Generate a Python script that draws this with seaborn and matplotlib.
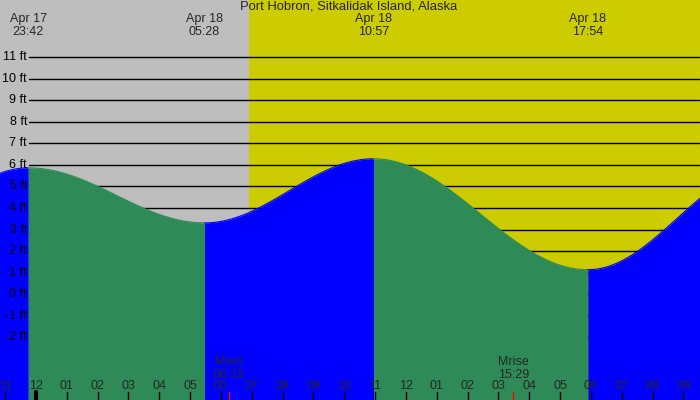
import numpy as np
import pandas as pd
import matplotlib
matplotlib.use("Agg")
import matplotlib.pyplot as plt
import seaborn as sns

# ---- data (hours relative to midnight Apr 18) ----
title = "Port Hobron, Sitkalidak Island, Alaska"
extreme_hours = [-6.6, -0.25, 5.467, 10.95, 17.90, 23.7]
extreme_heights = [0.9, 5.86, 3.31, 6.28, 1.14, 5.9]
extreme_labels = ["", "Apr 17\n23:42", "Apr 18\n05:28", "Apr 18\n10:57", "Apr 18\n17:54", ""]
sunrise_hour = 6.91
moon_hours = [6.25, 15.483]
moon_labels = ["Mset\n06:15", "Mrise\n15:29"]
hour_ticks = list(range(-1, 22))
hour_labels = ["11", "12", "01", "02", "03", "04", "05", "06", "07", "08", "09", "10",
               "11", "12", "01", "02", "03", "04", "05", "06", "07", "08", "09"]
ft_levels = list(range(-2, 12))
ft_labels = [f"{v} ft" for v in ft_levels]

sns.set_style("white")
plt.rcParams['font.family'] = ['Liberation Sans', 'DejaVu Sans']

XMIN, XMAX = -1.168, 21.54
YMIN, YMAX = -4.9, 13.64
FS = 9

fig = plt.figure(figsize=(7, 4), dpi=100)
ax = fig.add_axes([0, 0, 1, 1])

# background: night / day
ax.axvspan(XMIN, sunrise_hour, color="#bebebe", zorder=0, lw=0)
ax.axvspan(sunrise_hour, XMAX, color="#cccc00", zorder=0, lw=0)

# grid lines
for v, lab in zip(ft_levels, ft_labels):
    ax.plot([-0.227, 21.51], [v, v], color="black", lw=1, zorder=1)
    ax.text(-0.29, v, lab, ha="right", va="center", fontsize=FS, color="black", zorder=5)

# tide curve (cosine shape between extremes)
rows = []
for i in range(len(extreme_hours) - 1):
    t0, t1 = extreme_hours[i], extreme_hours[i + 1]
    h0, h1 = extreme_heights[i], extreme_heights[i + 1]
    tt = np.linspace(t0, t1, 120)
    hh = h0 + (h1 - h0) * (1 - np.cos(np.pi * (tt - t0) / (t1 - t0))) / 2
    phase = "rising" if h1 > h0 else "falling"
    for a, b in zip(tt, hh):
        rows.append((i, phase, a, b))
df = pd.DataFrame(rows, columns=["seg", "phase", "hour", "height"])

colors = {"rising": "#0000ff", "falling": "#2e8b57"}
for seg, g in df.groupby("seg"):
    c = colors[g["phase"].iloc[0]]
    ax.fill_between(g["hour"], YMIN, g["height"], color=c, lw=0, zorder=2)
    sns.lineplot(x=g["hour"].values, y=g["height"].values, ax=ax, color=c, lw=0.8,
                 zorder=2, legend=False, estimator=None, sort=False)
ax.set_xlim(XMIN, XMAX)
ax.set_ylim(YMIN, YMAX)
ax.axis("off")

# title and extreme labels
ax.text(10.14, 13.32, title, ha="center", va="center", fontsize=9.4, zorder=6)
for t, lab in zip(extreme_hours, extreme_labels):
    if lab:
        ax.text(t, 12.45, lab, ha="center", va="center", fontsize=FS,
                linespacing=1.12, zorder=6)

# moon labels and red ticks
for t, lab in zip(moon_hours, moon_labels):
    ax.text(t, -3.42, lab, ha="center", va="center", fontsize=FS, linespacing=1.12, zorder=6)
    ax.plot([t, t], [YMIN, YMIN + 8 / 21.6], color="red", lw=1, zorder=6)

# hour ticks
for t, lab in zip(hour_ticks, hour_labels):
    lw = 3 if t == 0 else 1
    ax.plot([t, t], [YMIN, YMIN + 8 / 21.6], color="black", lw=lw, zorder=6)
    ax.text(t, -4.25, lab, ha="center", va="center", fontsize=FS, zorder=6)

fig.savefig("out.png", dpi=100)
